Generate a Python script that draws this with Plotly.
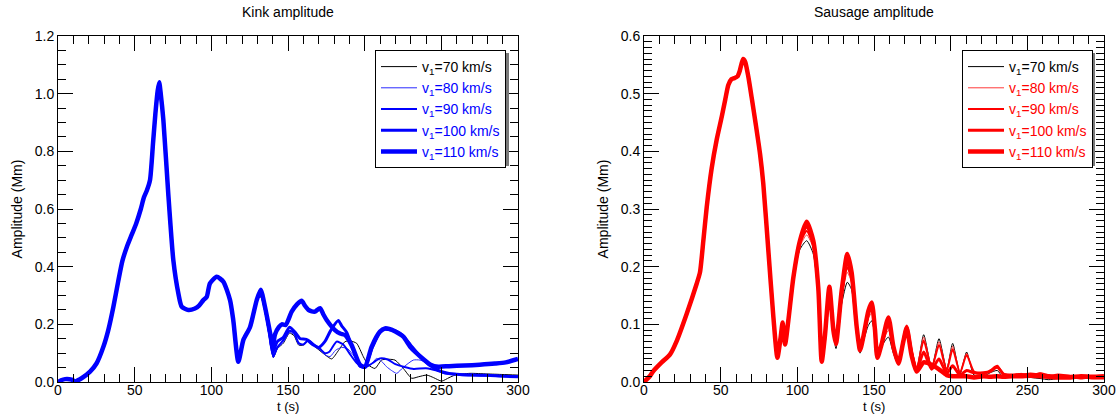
import plotly.graph_objects as go

# ---------------- data ----------------
SPEEDS = [70, 80, 90, 100, 110]

# Kink amplitude: common early evolution (t in s, amplitude in Mm)
KINK_T_HEAD = [0, 2, 4.6, 8.9, 11, 15.4, 20.9, 25.2, 29.6, 32.8, 36.1, 39.3, 42, 45, 48,
               51, 54, 56, 58, 60, 62, 63.5, 65, 66, 67, 68.7, 71.9, 75.2, 78.5, 80.7,
               85, 89.3, 92, 94.8, 97, 99.1, 103.5, 107.8, 112.2, 114.3, 117.6, 120.9,
               125.2, 129.6]
KINK_A_HEAD = [0.0, 0.006, 0.01, 0.008, 0.002, 0.013, 0.036, 0.065, 0.122, 0.18, 0.26,
               0.35, 0.42, 0.47, 0.51, 0.55, 0.6, 0.64, 0.665, 0.70, 0.83, 0.93, 1.01,
               1.04, 1.0, 0.91, 0.654, 0.423, 0.307, 0.261, 0.25, 0.255, 0.265, 0.284,
               0.295, 0.342, 0.365, 0.348, 0.284, 0.215, 0.07, 0.146, 0.19, 0.284]

# Kink amplitude: later evolution for each driver speed
KINK_T_70 = [132.2, 135, 138.3, 140.4, 143, 147, 151, 154, 157, 160, 163.3, 167, 170.9,
             174, 178.5, 183, 187.2, 191, 194.8, 199.1, 202.4, 206.7, 211, 214.3, 219.8,
             225.2, 230.7, 235, 240.5, 245, 250.2, 255, 259, 268.7, 279.6, 290, 300]
KINK_A_70 = [0.295, 0.24, 0.15, 0.085, 0.115, 0.135, 0.17, 0.16, 0.128, 0.128, 0.145,
             0.125, 0.108, 0.095, 0.08, 0.11, 0.14, 0.142, 0.134, 0.088, 0.059, 0.047,
             0.076, 0.079, 0.076, 0.047, 0.013, 0.018, 0.024, 0.015, 0.003, 0.015, 0.024,
             0.03, 0.028, 0.026, 0.024]

KINK_T_80 = [132.2, 135, 138.3, 140.4, 143, 147, 151, 154, 157, 160, 163.3, 167, 170.9,
             174, 177.4, 181, 185, 189, 193, 197, 200, 204, 207.8, 211, 214.3, 217.5,
             220.9, 225, 231.7, 236.1, 242.6, 247, 251.3, 256, 265, 280, 300]
KINK_A_80 = [0.30, 0.245, 0.15, 0.085, 0.115, 0.138, 0.172, 0.165, 0.13, 0.13, 0.148,
             0.128, 0.11, 0.095, 0.088, 0.11, 0.12, 0.115, 0.09, 0.065, 0.05, 0.06, 0.082,
             0.072, 0.053, 0.04, 0.03, 0.05, 0.076, 0.076, 0.062, 0.045, 0.03, 0.025,
             0.022, 0.02, 0.02]

KINK_T_90 = [132.2, 135, 138.3, 140.4, 143, 147, 151, 154, 157, 160, 163.3, 167, 170.9,
             174, 177, 181.7, 186, 190, 195, 200, 205, 210, 215, 220, 226, 232, 240, 247,
             252, 260, 270, 285, 300]
KINK_A_90 = [0.305, 0.25, 0.15, 0.088, 0.12, 0.145, 0.178, 0.17, 0.135, 0.13, 0.145, 0.13,
             0.115, 0.1, 0.105, 0.14, 0.13, 0.10, 0.065, 0.05, 0.065, 0.082, 0.078, 0.062,
             0.052, 0.045, 0.048, 0.04, 0.03, 0.028, 0.025, 0.022, 0.02]

KINK_T_100 = [132.2, 135, 138.3, 140, 143, 147, 151, 155, 158, 162, 166, 170, 174, 178,
              182.8, 185, 188.3, 192, 197, 200, 205, 210, 213.3, 220, 225, 230, 236, 242,
              248, 255, 262, 270, 280, 290, 300]
KINK_A_100 = [0.32, 0.26, 0.16, 0.10, 0.14, 0.155, 0.19, 0.17, 0.15, 0.148, 0.13, 0.12,
              0.14, 0.18, 0.213, 0.195, 0.172, 0.12, 0.055, 0.053, 0.12, 0.172, 0.183,
              0.177, 0.16, 0.128, 0.09, 0.06, 0.04, 0.03, 0.026, 0.024, 0.023, 0.02, 0.018]

KINK_T_110 = [132.2, 135, 138.3, 140, 141.5, 144, 146, 148.5, 152.4, 156, 158.9, 161,
              163.3, 165.5, 167.6, 170.9, 173, 175.2, 180.6, 184, 187.2, 191.5, 197, 200.2,
              204.6, 210, 213.3, 216, 220, 225.2, 230, 237, 243, 248, 255, 265, 275, 285,
              292, 300]
KINK_A_110 = [0.32, 0.26, 0.17, 0.12, 0.165, 0.19, 0.2, 0.198, 0.244, 0.27, 0.282, 0.265,
              0.25, 0.245, 0.244, 0.256, 0.235, 0.215, 0.18, 0.168, 0.163, 0.128, 0.059,
              0.053, 0.123, 0.175, 0.186, 0.184, 0.175, 0.157, 0.12, 0.085, 0.06, 0.053,
              0.055, 0.057, 0.06, 0.064, 0.068, 0.08]

# Sausage amplitude: common early evolution
SAUS_T_HEAD = [0, 3.9, 6.1, 11.5, 17, 21.3, 27.8, 34.3, 36.5, 38.7, 40.9, 44.1, 47.4,
               50.7, 53, 55, 57, 59, 61, 62.5, 64.6, 66, 68, 70.4, 73, 75.65, 77.8, 81.1,
               84.4, 87, 89.1, 90.4, 92, 94.1, 97.4]
SAUS_A_HEAD = [0.0, 0.0104, 0.019, 0.034, 0.048, 0.071, 0.118, 0.17, 0.19, 0.245, 0.303,
               0.37, 0.42, 0.46, 0.49, 0.515, 0.525, 0.527, 0.53, 0.54, 0.56, 0.555, 0.53,
               0.49, 0.445, 0.396, 0.344, 0.228, 0.112, 0.042, 0.077, 0.103, 0.065, 0.106,
               0.181]

# Sausage amplitude: later evolution, shared time samples
SAUS_T_TAIL = [101.7, 106.1, 110.4, 113.7, 115.9, 118, 120.9, 123.5, 125.2, 128.9, 132.6,
               135.4, 138.7, 140.9, 143, 146.3, 148.5, 150.6, 152.2, 155, 159.4, 162.6,
               165.9, 169.1, 171.3, 174.6, 177.8, 182.4, 187.6, 192.4, 197.4, 201.3, 206.1,
               210.4, 215.2, 221.3, 225.7, 230.4, 234.4, 240, 246, 252, 258.3, 264, 270,
               278, 285, 292, 300]
SAUS_A_70 = [0.23, 0.245, 0.222, 0.15, 0.04, 0.075, 0.155, 0.085, 0.058, 0.135, 0.173,
             0.16, 0.085, 0.05, 0.07, 0.098, 0.106, 0.08, 0.045, 0.062, 0.078, 0.05, 0.03,
             0.07, 0.09, 0.055, 0.022, 0.082, 0.025, 0.075, 0.022, 0.067, 0.014, 0.052,
             0.012, 0.01, 0.016, 0.02, 0.008, 0.012, 0.012, 0.008, 0.006, 0.004, 0.006,
             0.008, 0.007, 0.006, 0.006]
SAUS_A_80 = [0.235, 0.255, 0.232, 0.155, 0.037, 0.077, 0.158, 0.088, 0.062, 0.145, 0.19,
             0.172, 0.09, 0.052, 0.074, 0.11, 0.12, 0.085, 0.043, 0.064, 0.09, 0.055, 0.031,
             0.07, 0.093, 0.055, 0.022, 0.078, 0.025, 0.07, 0.022, 0.062, 0.016, 0.05,
             0.016, 0.012, 0.02, 0.024, 0.012, 0.012, 0.015, 0.012, 0.016, 0.01, 0.008,
             0.006, 0.008, 0.01, 0.008]
SAUS_A_90 = [0.24, 0.262, 0.236, 0.158, 0.036, 0.078, 0.16, 0.089, 0.064, 0.15, 0.198,
             0.178, 0.092, 0.054, 0.076, 0.115, 0.128, 0.088, 0.042, 0.065, 0.098, 0.057,
             0.031, 0.071, 0.095, 0.054, 0.022, 0.072, 0.024, 0.064, 0.02, 0.057, 0.016,
             0.047, 0.018, 0.014, 0.02, 0.028, 0.014, 0.013, 0.014, 0.01, 0.015, 0.012,
             0.01, 0.009, 0.006, 0.008, 0.009]
SAUS_A_100 = [0.243, 0.27, 0.24, 0.16, 0.035, 0.078, 0.162, 0.09, 0.066, 0.155, 0.208,
              0.183, 0.094, 0.054, 0.077, 0.12, 0.133, 0.09, 0.042, 0.066, 0.105, 0.06,
              0.032, 0.071, 0.097, 0.05, 0.02, 0.052, 0.022, 0.04, 0.015, 0.028, 0.012,
              0.02, 0.016, 0.016, 0.018, 0.026, 0.014, 0.011, 0.012, 0.014, 0.012, 0.01,
              0.012, 0.01, 0.009, 0.007, 0.007]
SAUS_A_110 = [0.245, 0.278, 0.245, 0.162, 0.035, 0.08, 0.165, 0.09, 0.066, 0.158, 0.222,
              0.19, 0.096, 0.055, 0.078, 0.123, 0.138, 0.092, 0.042, 0.066, 0.112, 0.062,
              0.032, 0.07, 0.094, 0.045, 0.018, 0.034, 0.03, 0.022, 0.012, 0.01, 0.01,
              0.01, 0.008, 0.01, 0.009, 0.01, 0.009, 0.01, 0.01, 0.011, 0.01, 0.009, 0.008,
              0.008, 0.01, 0.009, 0.01]

KINK_T_TAILS = [KINK_T_70, KINK_T_80, KINK_T_90, KINK_T_100, KINK_T_110]
KINK_A_TAILS = [KINK_A_70, KINK_A_80, KINK_A_90, KINK_A_100, KINK_A_110]
SAUS_A_TAILS = [SAUS_A_70, SAUS_A_80, SAUS_A_90, SAUS_A_100, SAUS_A_110]

# ---------------- styling ----------------
LINE_WIDTHS = [1, 1, 2, 3, 4.5]
KINK_COLORS = ["#000000", "#2a2aff", "#0000ff", "#0000ff", "#0000ff"]
SAUS_COLORS = ["#000000", "#ff3a3a", "#ff0000", "#ff0000", "#ff0000"]
FONT = "Liberation Sans, Arial, Helvetica, sans-serif"

W, H = 1118, 414
ML, MR, MT, MB = 58, 14, 36, 32
PW, PH = W - ML - MR, H - MT - MB


def px_x(px):
    return (px - ML) / PW


def px_y(py):
    return (H - MB - py) / PH


def label(v, color):
    return f"<span style='color:{color}'>v<sub>1</sub>={v} km/s</span>"


fig = go.Figure()

for i, v in enumerate(SPEEDS):
    txt_color = "#000000" if i == 0 else "#0000ff"
    fig.add_trace(go.Scatter(
        x=KINK_T_HEAD + KINK_T_TAILS[i], y=KINK_A_HEAD + KINK_A_TAILS[i],
        mode="lines", line=dict(color=KINK_COLORS[i], width=LINE_WIDTHS[i],
                                shape="spline", smoothing=0.6),
        name=label(v, txt_color), xaxis="x", yaxis="y", legend="legend"))

for i, v in enumerate(SPEEDS):
    txt_color = "#000000" if i == 0 else "#ff0000"
    fig.add_trace(go.Scatter(
        x=SAUS_T_HEAD + SAUS_T_TAIL, y=SAUS_A_HEAD + SAUS_A_TAILS[i],
        mode="lines", line=dict(color=SAUS_COLORS[i], width=LINE_WIDTHS[i],
                                shape="spline", smoothing=0.6),
        name=label(v, txt_color), xaxis="x2", yaxis="y2", legend="legend2"))

axis_common = dict(
    showline=True, linecolor="black", linewidth=1, mirror="allticks",
    ticks="inside", ticklen=15, tickwidth=1, tickcolor="black",
    showgrid=False, zeroline=False, automargin=False,
    tickfont=dict(family=FONT, size=14, color="black"),
    title_font=dict(family=FONT, size=14, color="black"),
)
x_common = dict(range=[0, 300], tick0=0, dtick=50, ticklabelstandoff=-5,
                minor=dict(ticks="inside", ticklen=8, dtick=10, tickcolor="black"))

left_dom = [0, px_x(518)]
right_dom = [px_x(644), 1]

fig.update_layout(
    width=W, height=H,
    margin=dict(l=ML, r=MR, t=MT, b=MB, pad=0),
    paper_bgcolor="white", plot_bgcolor="white",
    font=dict(family=FONT, size=14, color="black"),
    xaxis=dict(domain=left_dom, anchor="y", **x_common, **axis_common),
    yaxis=dict(range=[0, 1.2], tick0=0, dtick=0.2, tickformat=".1f",
               minor=dict(ticks="inside", ticklen=8, dtick=0.05, tickcolor="black"),
               title=dict(text="Amplitude (Mm)", standoff=8), anchor="x",
               **axis_common),
    xaxis2=dict(domain=right_dom, anchor="y2", **x_common, **axis_common),
    yaxis2=dict(range=[0, 0.6], tick0=0, dtick=0.1, tickformat=".1f",
                minor=dict(ticks="inside", ticklen=8, dtick=0.01, tickcolor="black"),
                title=dict(text="Amplitude (Mm)", standoff=8), anchor="x2",
                **axis_common),
    legend=dict(x=px_x(375), y=px_y(50), xanchor="left", yanchor="top",
                bgcolor="white", bordercolor="black", borderwidth=1, itemwidth=36,
                font=dict(family=FONT, size=14), itemclick=False),
    legend2=dict(x=px_x(962), y=px_y(50), xanchor="left", yanchor="top",
                 bgcolor="white", bordercolor="black", borderwidth=1, itemwidth=36,
                 font=dict(family=FONT, size=14), itemclick=False),
    showlegend=True,
)

# drop shadows behind the two legend boxes
for x0, x1 in [(378, 509), (965, 1095)]:
    fig.add_shape(type="rect", xref="paper", yref="paper",
                  x0=px_x(x0), x1=px_x(x1), y0=px_y(166), y1=px_y(53),
                  fillcolor="#7a7a7a", line=dict(width=0), layer="above")

# panel titles and time-axis titles
for txt, dom in [("Kink amplitude", left_dom), ("Sausage amplitude", right_dom)]:
    mid = (dom[0] + dom[1]) / 2
    fig.add_annotation(text=txt, xref="paper", yref="paper",
                       x=mid, y=px_y(12), showarrow=False,
                       xanchor="center", yanchor="middle",
                       font=dict(family=FONT, size=14, color="black"))
    fig.add_annotation(text="t (s)", xref="paper", yref="paper",
                       x=mid, y=px_y(406), showarrow=False,
                       xanchor="center", yanchor="middle",
                       font=dict(family=FONT, size=13, color="black"))

fig.write_html("out.html")
